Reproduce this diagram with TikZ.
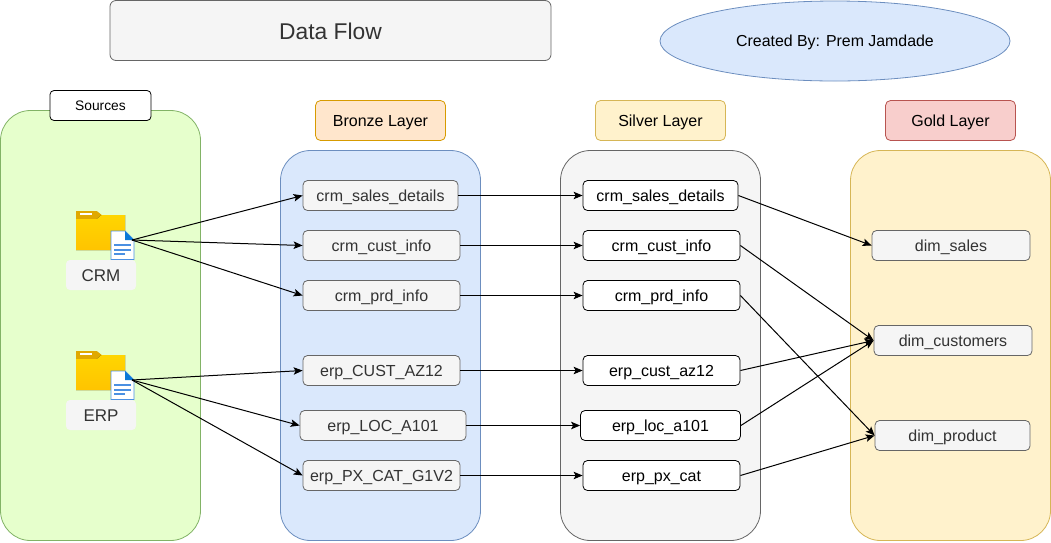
\documentclass[tikz,border=0pt]{standalone}
\usepackage{fontspec}
\setmainfont{Liberation Sans}
\usetikzlibrary{arrows.meta,shapes.geometric}
\definecolor{grntxt}{HTML}{333333}
\definecolor{panelgreen}{HTML}{E6FFCC}
\definecolor{edgegreen}{HTML}{82B366}
\definecolor{bluefill}{HTML}{DAE8FC}
\definecolor{blueedge}{HTML}{6C8EBF}
\definecolor{greyfill}{HTML}{F5F5F5}
\definecolor{greyedge}{HTML}{666666}
\definecolor{yelfill}{HTML}{FFF2CC}
\definecolor{yeledge}{HTML}{D6B656}
\definecolor{orfill}{HTML}{FFE6CC}
\definecolor{oredge}{HTML}{D79B00}
\definecolor{redfill}{HTML}{F8CECC}
\definecolor{rededge}{HTML}{B85450}
\definecolor{foldA}{HTML}{FFD500}
\definecolor{foldB}{HTML}{FFC400}
\definecolor{foldtab}{HTML}{E0A800}
\definecolor{docedge}{HTML}{4A90E2}
\definecolor{docfold}{HTML}{0A78D7}
\tikzset{
  x=1pt,y=-1pt,
  txt/.style={font=\fontsize{16}{18}\selectfont,inner sep=0pt,align=center,text height=12.8pt,text depth=0pt},
  panel/.style={rounded corners=30,line width=0.8pt},
  layerbox/.style={txt,rounded corners=5,line width=0.8pt,minimum width=130,minimum height=40},
  tablebox/.style={txt,rounded corners=4.5,line width=0.8pt,minimum height=30,draw=greyedge,fill=greyfill,text=grntxt},
  silverbox/.style={txt,rounded corners=4.5,line width=0.8pt,minimum height=30,draw=black,fill=white,text=black},
  arr/.style={-{Stealth[length=9pt,width=7.5pt,inset=2pt]},line width=1pt,black},
  srclabel/.style={txt,fill=greyfill,rounded corners=4,minimum width=70,minimum height=30,text=grntxt,font=\fontsize{17}{19}\selectfont},
  pics/fileicon/.style={code={
    \fill[foldtab] (0,0) -- (20.7,0) -- (25.7,4) -- (20.7,8) -- (0,8) -- cycle;
    \fill[white] (4,1.7) rectangle (16,4);
    \fill[top color=foldA,bottom color=foldB] (0,8) -- (20.7,8) -- (25.7,4) -- (49,4) -- (49,39) -- (0,39) -- cycle;
    \draw[docedge,fill=white,line width=0.9pt] (35,20) -- (49,20) -- (58,29) -- (58,48.5) -- (35,48.5) -- cycle;
    \fill[docfold] (49,20) -- (58,29) -- (49,29) -- cycle;
    \fill[docedge] (38.3,33) rectangle (55,35);
    \fill[docedge] (38.3,37.5) rectangle (55,39.5);
    \fill[docedge] (38.3,42) rectangle (49,44);
  }}
}
\begin{document}
\begin{tikzpicture}
\useasboundingbox (0,0) rectangle (1051,542);
\node[draw=greyedge,fill=greyfill,text=grntxt,rounded corners=6,line width=0.8pt,minimum width=441,minimum height=60,inner sep=0pt,text height=17.5pt,text depth=0pt,font=\fontsize{22.8}{26}\selectfont] (title) at (330.5,30.5) {Data Flow};
\node[draw=blueedge,fill=bluefill,ellipse,line width=0.8pt,minimum width=350,minimum height=80,inner sep=0pt,text height=11.5pt,text depth=0pt,font=\fontsize{15.9}{18}\selectfont] (credit) at (835,41) {Created By: Prem Jamdade};

\draw[panel,draw=edgegreen,fill=panelgreen] (0.5,110.5) rectangle (200.5,540.5);
\draw[panel,draw=blueedge,fill=bluefill] (280.5,150.5) rectangle (480.5,540.5);
\draw[panel,draw=greyedge,fill=greyfill] (560.5,150.5) rectangle (760.5,540.5);
\draw[panel,draw=yeledge,fill=yelfill] (850.5,150.5) rectangle (1050.5,540.5);

\node[txt,draw=black,fill=white,rounded corners=4,line width=0.8pt,minimum width=101,minimum height=30,text height=10.5pt,font=\fontsize{13.8}{15}\selectfont] (sources) at (100.5,105.5) {Sources};
\node[layerbox,draw=oredge,fill=orfill] (bronze) at (380.5,120.5) {Bronze Layer};
\node[layerbox,draw=yeledge,fill=yelfill] (silver) at (660.5,120.5) {Silver Layer};
\node[layerbox,draw=rededge,fill=redfill] (gold) at (950.5,120.5) {Gold Layer};

\pic at (76,211) {fileicon};
\pic at (76,351) {fileicon};
\coordinate (crmout) at (132,240);
\coordinate (erpout) at (132,380);
\node[srclabel] (crm) at (101,275) {CRM};
\node[srclabel] (erp) at (101,415) {ERP};

\node[tablebox,minimum width=155] (b1) at (380.5,195.5) {crm\_sales\_details};
\node[tablebox,minimum width=157] (b2) at (381.5,245.5) {crm\_cust\_info};
\node[tablebox,minimum width=157] (b3) at (381.5,295.5) {crm\_prd\_info};
\node[tablebox,minimum width=157] (b4) at (381.5,370.5) {erp\_CUST\_AZ12};
\node[tablebox,minimum width=166] (b5) at (383,425.5) {erp\_LOC\_A101};
\node[tablebox,minimum width=157] (b6) at (381.5,475.5) {erp\_PX\_CAT\_G1V2};

\node[silverbox,minimum width=155] (s1) at (660.5,195.5) {crm\_sales\_details};
\node[silverbox,minimum width=157] (s2) at (661.5,245.5) {crm\_cust\_info};
\node[silverbox,minimum width=157] (s3) at (661.5,295.5) {crm\_prd\_info};
\node[silverbox,minimum width=157] (s4) at (661.5,370.5) {erp\_cust\_az12};
\node[silverbox,minimum width=160] (s5) at (660.5,425.5) {erp\_loc\_a101};
\node[silverbox,minimum width=157] (s6) at (661.5,475.5) {erp\_px\_cat};

\node[tablebox,minimum width=158] (g1) at (951,245.5) {dim\_sales};
\node[tablebox,minimum width=158] (g2) at (953,340.5) {dim\_customers};
\node[tablebox,minimum width=155] (g3) at (952.5,435.5) {dim\_product};

\draw[arr] (crmout) -- (b1.west);
\draw[arr] (crmout) -- (b2.west);
\draw[arr] (crmout) -- (b3.west);
\draw[arr] (erpout) -- (b4.west);
\draw[arr] (erpout) -- (b5.west);
\draw[arr] (erpout) -- (b6.west);

\draw[arr] (b1.east) -- (s1.west);
\draw[arr] (b2.east) -- (s2.west);
\draw[arr] (b3.east) -- (s3.west);
\draw[arr] (b4.east) -- (s4.west);
\draw[arr] (b5.east) -- (s5.west);
\draw[arr] (b6.east) -- (s6.west);

\draw[arr] (s1.east) -- (g1.west);
\draw[arr] (s2.east) -- (g2.west);
\draw[arr] (s3.east) -- (g3.west);
\draw[arr] (s4.east) -- (g2.west);
\draw[arr] (s5.east) -- (g2.west);
\draw[arr] (s6.east) -- (g3.west);
\end{tikzpicture}
\end{document}
